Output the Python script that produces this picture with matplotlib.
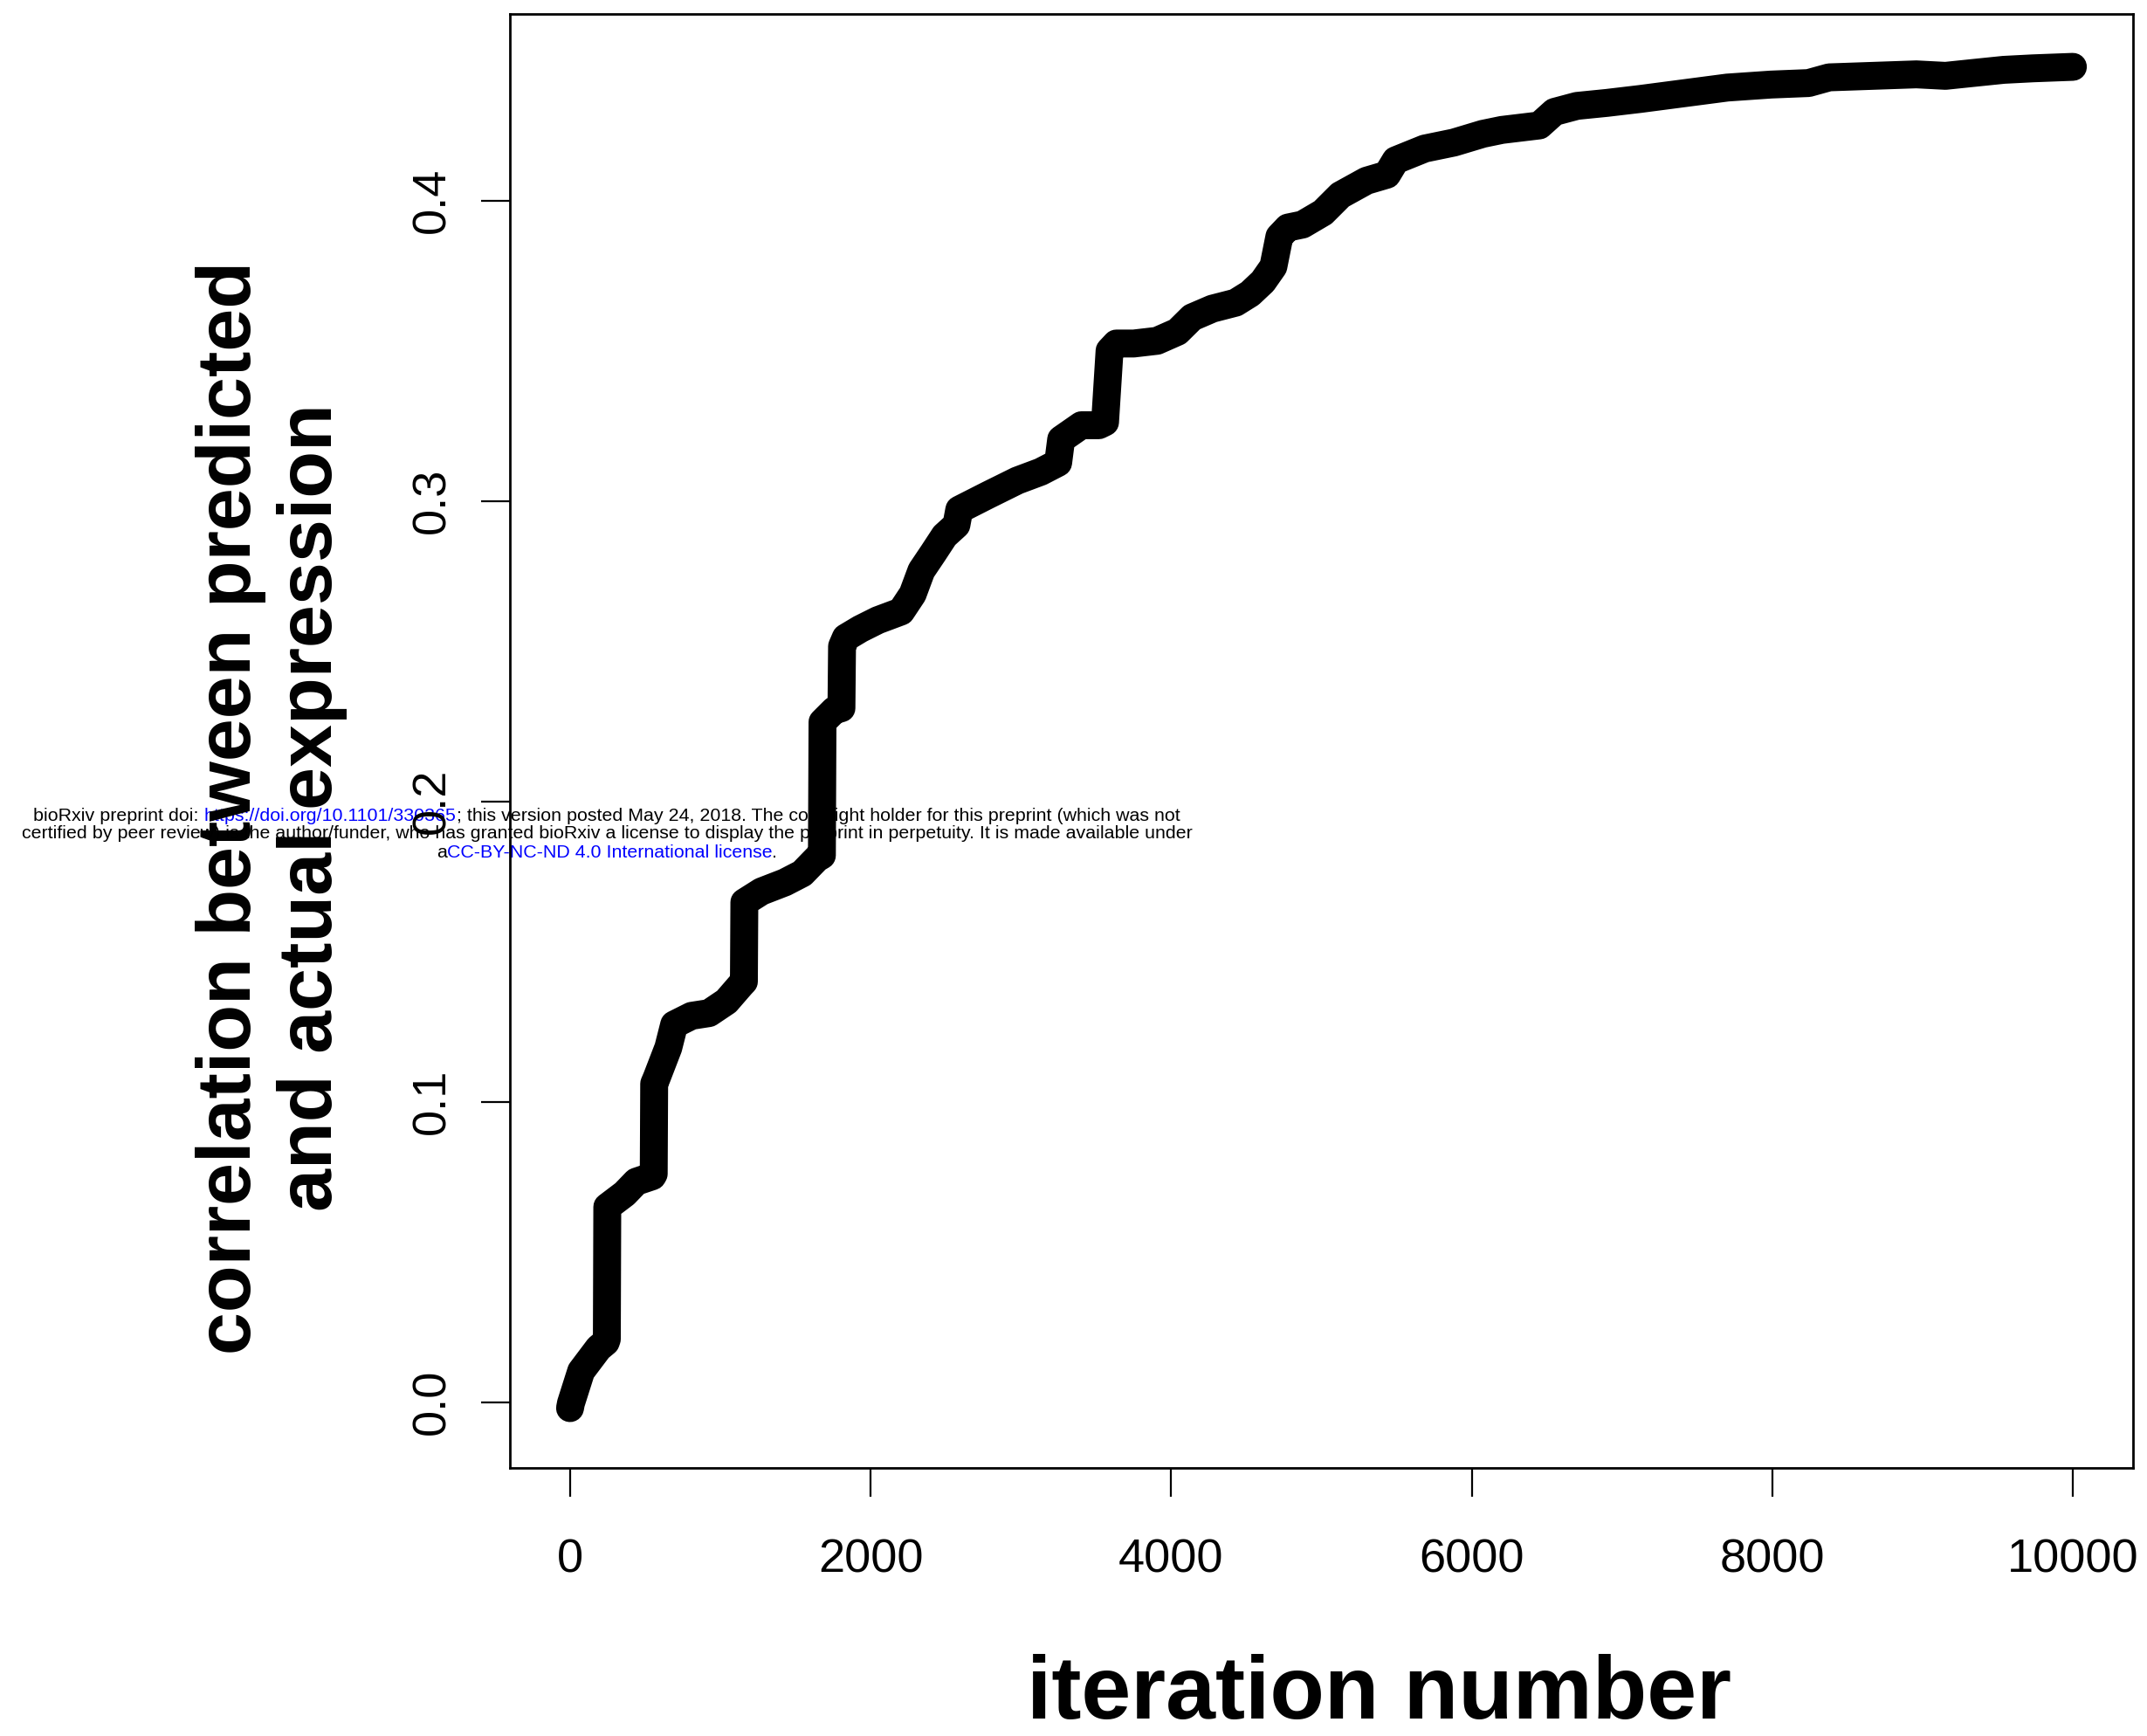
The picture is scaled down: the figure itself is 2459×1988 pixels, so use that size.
import matplotlib
matplotlib.use('Agg')
import matplotlib.pyplot as plt

# ---- data ----
iterations = [0, 6, 74, 190, 238, 245, 248, 364, 441, 548, 557, 560, 577, 654, 693,
              809, 925, 1041, 1138, 1157, 1160, 1274, 1429, 1545, 1642, 1676, 1680,
              1758, 1806, 1810, 1835, 1932, 2048, 2203, 2280, 2338, 2416, 2492, 2571,
              2590, 2783, 2977, 3132, 3248, 3268, 3403, 3519, 3560, 3590, 3635, 3751,
              3906, 4042, 4139, 4274, 4429, 4525, 4610, 4680, 4720, 4777, 4874, 5010,
              5126, 5300, 5436, 5494, 5687, 5881, 6074, 6200, 6450, 6550, 6700, 6900,
              7120, 7410, 7700, 7991, 8241, 8378, 8668, 8958, 9152, 9344, 9539, 9733,
              10000]
correlation = [-0.002, -0.0004, 0.0103, 0.018, 0.020, 0.021, 0.065, 0.0694, 0.0734,
               0.0752, 0.076, 0.106, 0.108, 0.118, 0.1257, 0.1286, 0.1295, 0.1334,
               0.139, 0.140, 0.1664, 0.170, 0.173, 0.176, 0.181, 0.182, 0.2264, 0.2303,
               0.231, 0.2516, 0.2545, 0.2574, 0.2603, 0.2632, 0.269, 0.2768, 0.2826,
               0.2884, 0.292, 0.2971, 0.302, 0.3068, 0.3097, 0.3127, 0.3205, 0.3252,
               0.3252, 0.3262, 0.350, 0.3524, 0.3524, 0.3533, 0.3563, 0.3611, 0.364,
               0.366, 0.369, 0.373, 0.378, 0.388, 0.391, 0.392, 0.396, 0.4018, 0.4066,
               0.4086, 0.4134, 0.4173, 0.4193, 0.4222, 0.4235, 0.425, 0.4295, 0.4315,
               0.4325, 0.4338, 0.4357, 0.4376, 0.4386, 0.4391, 0.441, 0.4415, 0.442,
               0.4415, 0.4425, 0.4435, 0.444, 0.4445]
x_ticks = [0, 2000, 4000, 6000, 8000, 10000]
x_tick_labels = ['0', '2000', '4000', '6000', '8000', '10000']
y_ticks = [0.0, 0.1, 0.2, 0.3, 0.4]
y_tick_labels = ['0.0', '0.1', '0.2', '0.3', '0.4']
x_label = 'iteration number'
y_label = 'correlation between predicted\nand actual expression'
notice_lines = [
    [('bioRxiv preprint doi: ', 'black'), ('https://doi.org/10.1101/330365', 'blue'),
     ('; this version posted May 24, 2018. The copyright holder for this preprint (which was not', 'black')],
    [('certified by peer review) is the author/funder, who has granted bioRxiv a license to display the preprint in perpetuity. It is made available under', 'black')],
    [('a', 'black'), ('CC-BY-NC-ND 4.0 International license', 'blue'), ('.', 'black')],
]

plt.rcParams['font.family'] = ['Liberation Sans', 'DejaVu Sans']

W, H, DPI = 2459, 1988, 100
fig = plt.figure(figsize=(W / DPI, H / DPI), dpi=DPI)
fig.patch.set_facecolor('white')

def fx(px):
    return px / W

def fy(py):
    return 1 - py / H

ax = fig.add_axes([fx(584), fy(1681), (2443 - 584) / W, (1681 - 16) / H])
ax.patch.set_alpha(0)
ax.plot(iterations, correlation, color='black', lw=23,
        solid_capstyle='round', solid_joinstyle='round', zorder=3)
ax.set_xlim(-400, 10400)
ax.set_ylim(-0.0219, 0.4621)
ax.set_xticks(x_ticks)
ax.set_xticklabels(x_tick_labels)
ax.set_yticks(y_ticks)
ax.set_yticklabels(y_tick_labels, rotation=90, va='center')
for s in ax.spines.values():
    s.set_linewidth(2.0)
ax.tick_params(axis='both', length=24, width=1.6, labelsize=39, color='black')
ax.tick_params(axis='x', pad=34)
ax.tick_params(axis='y', pad=22)

fig.text(fx(311), fy(925), y_label, rotation=90, ha='center', va='center',
         fontsize=63.4, fontweight='bold', multialignment='center', linespacing=1.2)
fig.text(fx(1579), fy(1968), x_label, ha='center', va='baseline',
         fontsize=73.6, fontweight='bold')

# bioRxiv notice (multi-coloured lines)
renderer = fig.canvas.get_renderer()
FS = 15.4

def width_of(s):
    t = fig.text(0, 0, s, fontsize=FS)
    w = t.get_window_extent(renderer).width
    t.remove()
    return w

centers_y = [934.5, 955, 977]
cx = 695
for segs, cy in zip(notice_lines, centers_y):
    full = ''.join(s for s, _ in segs)
    x0 = cx - width_of(full) / 2
    prefix = ''
    for s, c in segs:
        if prefix:
            off = width_of(prefix + s[0]) - width_of(s[0])
        else:
            off = 0
        fig.text(fx(x0 + off), fy(cy), s, fontsize=FS, color=c, ha='left',
                 va='center', zorder=-1)
        prefix += s

fig.savefig('out.png', dpi=DPI, facecolor='white')
